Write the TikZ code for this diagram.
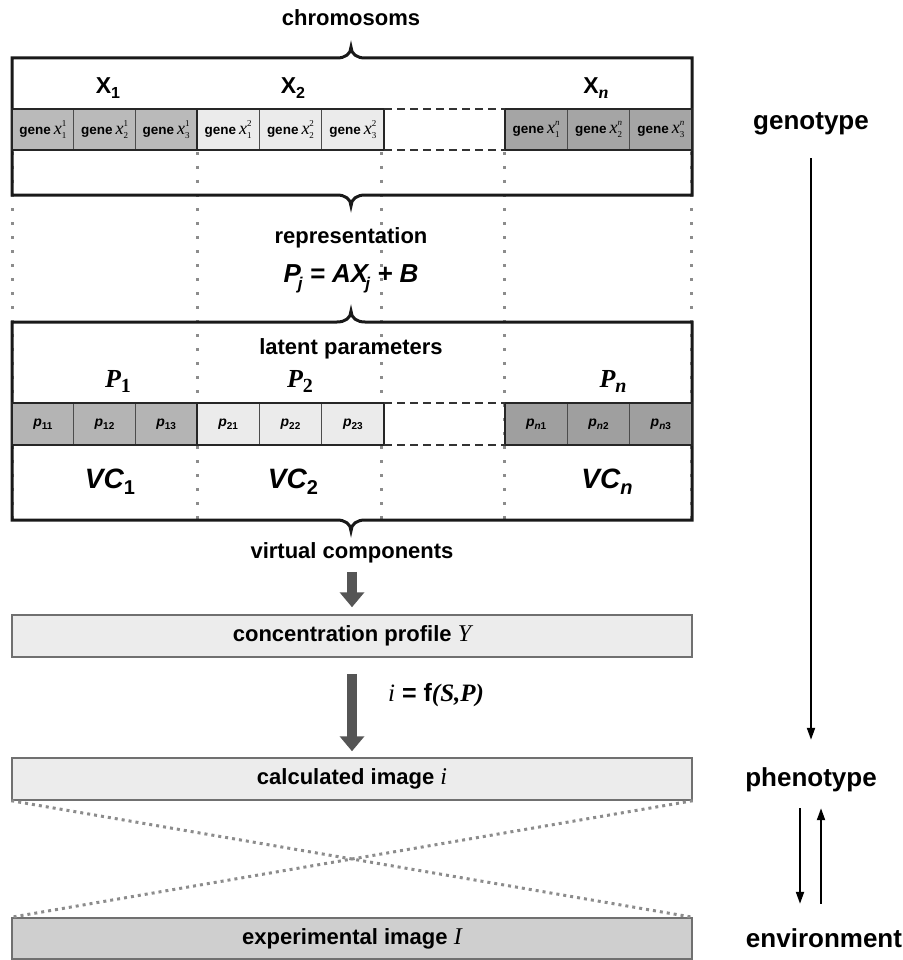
\documentclass[tikz,border=0pt]{standalone}
\usepackage{fontspec}
\setmainfont{Liberation Sans}
\newfontfamily\tms{Liberation Serif}
\usetikzlibrary{arrows.meta,calc}
\definecolor{gA}{HTML}{BABABA}
\definecolor{gB}{HTML}{EBEBEB}
\definecolor{gN}{HTML}{A5A5A5}
\definecolor{pA}{HTML}{B4B4B4}
\definecolor{pB}{HTML}{EBEBEB}
\definecolor{pN}{HTML}{9F9F9F}
\definecolor{boxfill}{HTML}{ECECEC}
\definecolor{expfill}{HTML}{CFCFCF}
\definecolor{boxedge}{HTML}{707070}
\definecolor{dotgray}{HTML}{8C8C8C}
\definecolor{arrgray}{HTML}{555555}
\newcommand\fsz[1]{\fontsize{#1}{#1}\selectfont}
\newcommand\gx[2]{{\fsz{13.5}\bfseries gene}\hspace{3pt}{\tms\fsz{18}\itshape x}\rlap{\raisebox{7.5pt}{\tms\fsz{9}#2}}\raisebox{-4pt}{\tms\fsz{9}#1}}
\newcommand\pp[1]{{\fsz{14}\bfseries\itshape p}\raisebox{-3pt}{\fsz{10}\bfseries #1}}
\tikzset{
  cell/.style={draw=black!70, line width=1.1pt, anchor=north west, inner sep=0pt, outer sep=0pt, minimum height=41pt},
  ca/.style={cell, minimum width=61.67pt},
  cb/.style={cell, minimum width=62.33pt},
  grp/.style={draw=black!85, line width=2.5pt},
  bigbox/.style={draw=black!90, line width=3pt, line join=miter},
  dashline/.style={draw=black!80, line width=1.8pt, dash pattern=on 8pt off 5pt},
  vdot/.style={draw=dotgray, line width=3pt, dash pattern=on 3pt off 11pt},
  xdot/.style={draw=dotgray, line width=3pt, dash pattern=on 3pt off 4pt},
  flowbox/.style={draw=boxedge, line width=1.5pt, fill=boxfill, minimum width=680pt, minimum height=42pt, inner sep=0pt, font=\fsz{22}\bfseries},
  txt/.style={anchor=base, inner sep=0pt},
  rlab/.style={anchor=base, inner sep=0pt, text height=19pt, text depth=6pt, font=\fsz{26}\bfseries},
  garrow/.style={draw=arrgray, line width=10pt, -{Triangle[width=24pt,length=15pt]}},
  tarrow/.style={draw=black, line width=2pt, -{Triangle[width=8pt,length=12pt]}}
}
\begin{document}
\begin{tikzpicture}[x=1pt,y=-1pt]
\useasboundingbox (0,0) rectangle (902,960);

% vertical dotted guide lines
\foreach \xx in {12,197,381,504,691}
  \draw[vdot] (\xx,152) -- (\xx,530);

% chromosome box with braces
\draw[bigbox] (12,58) -- (337,58) .. controls (345,58) and (351,54) .. (351,47)
  .. controls (351,54) and (357,58) .. (365,58) -- (692,58) -- (692,195)
  -- (365,195) .. controls (357,195) and (351,199) .. (351,206)
  .. controls (351,199) and (345,195) .. (337,195) -- (12,195) -- cycle;

% latent parameter box with braces
\draw[bigbox] (12,322) -- (337,322) .. controls (345,322) and (351,318) .. (351,311)
  .. controls (351,318) and (357,322) .. (365,322) -- (692,322) -- (692,520)
  -- (365,520) .. controls (357,520) and (351,524) .. (351,531)
  .. controls (351,524) and (345,520) .. (337,520) -- (12,520) -- cycle;

% titles
\node[txt, font=\fsz{22}\bfseries] (chrom) at (351,26) {chromosoms};
\node[txt] (X1) at (108,94) {\fsz{23}\bfseries X\raisebox{-5pt}{\fsz{16}1}};
\node[txt] (X2) at (293,94) {\fsz{23}\bfseries X\raisebox{-5pt}{\fsz{16}2}};
\node[txt] (Xn) at (596,94) {\fsz{23}\bfseries X\raisebox{-5pt}{\tms\fsz{18}\bfseries\itshape n}};

% gene cells
\node[ca, fill=gA] (g11) at (12,109) {\gx{1}{1}};
\node[ca, fill=gA] (g12) at (73.67,109) {\gx{2}{1}};
\node[ca, fill=gA] (g13) at (135.33,109) {\gx{3}{1}};
\node[cb, fill=gB] (g21) at (197,109) {\gx{1}{2}};
\node[cb, fill=gB] (g22) at (259.33,109) {\gx{2}{2}};
\node[cb, fill=gB] (g23) at (321.67,109) {\gx{3}{2}};
\node[cb, fill=gN] (gn1) at (505,109) {\gx{1}{\itshape n}};
\node[cb, fill=gN] (gn2) at (567.33,109) {\gx{2}{\itshape n}};
\node[cb, fill=gN] (gn3) at (629.67,109) {\gx{3}{\itshape n}};
\draw[grp] (g11.north west) rectangle (g13.south east);
\draw[grp] (g21.north west) rectangle (g23.south east);
\draw[grp] (gn1.north west) rectangle (gn3.south east);
\draw[dashline] (g23.north east) -- (gn1.north west);
\draw[dashline] (g23.south east) -- (gn1.south west);

% representation
\node[txt, font=\fsz{22}\bfseries] (rep) at (351,243) {representation};
\node[txt] (eq) at (351,282) {\fsz{26}\bfseries\itshape P\kern-3pt\raisebox{-7pt}{\fsz{17}j} = AX\kern-3pt\raisebox{-7pt}{\fsz{17}j} + B};

% latent parameters
\node[txt, font=\fsz{22}\bfseries] (lat) at (351,354) {latent parameters};
\node[txt] (P1) at (118,387) {\tms\bfseries\itshape\fsz{26}P\raisebox{-5pt}{\upshape\fsz{20}1}};
\node[txt] (P2) at (300,387) {\tms\bfseries\itshape\fsz{26}P\raisebox{-5pt}{\upshape\fsz{20}2}};
\node[txt] (Pn) at (613,387) {\tms\bfseries\itshape\fsz{26}P\raisebox{-5pt}{\fsz{20}n}};

\node[ca, fill=pA, minimum height=42pt] (p11) at (12,403) {\pp{11}};
\node[ca, fill=pA, minimum height=42pt] (p12) at (73.67,403) {\pp{12}};
\node[ca, fill=pA, minimum height=42pt] (p13) at (135.33,403) {\pp{13}};
\node[cb, fill=pB, minimum height=42pt] (p21) at (197,403) {\pp{21}};
\node[cb, fill=pB, minimum height=42pt] (p22) at (259.33,403) {\pp{22}};
\node[cb, fill=pB, minimum height=42pt] (p23) at (321.67,403) {\pp{23}};
\node[cb, fill=pN, minimum height=42pt] (pn1) at (505,403) {\pp{{\itshape n}1}};
\node[cb, fill=pN, minimum height=42pt] (pn2) at (567.33,403) {\pp{{\itshape n}2}};
\node[cb, fill=pN, minimum height=42pt] (pn3) at (629.67,403) {\pp{{\itshape n}3}};
\draw[grp] (p11.north west) rectangle (p13.south east);
\draw[grp] (p21.north west) rectangle (p23.south east);
\draw[grp] (pn1.north west) rectangle (pn3.south east);
\draw[dashline] (p23.north east) -- (pn1.north west);
\draw[dashline] (p23.south east) -- (pn1.south west);

\node[txt] (VC1) at (110,488) {\fsz{28}\bfseries\itshape VC\raisebox{-6pt}{\upshape\fsz{20}1}};
\node[txt] (VC2) at (293,488) {\fsz{28}\bfseries\itshape VC\raisebox{-6pt}{\upshape\fsz{20}2}};
\node[txt] (VCn) at (607,488) {\fsz{28}\bfseries\itshape VC\raisebox{-6pt}{\fsz{20}n}};

% flow part
\node[txt, font=\fsz{22}\bfseries] (vcomp) at (352,558) {virtual components};
\node[flowbox] (conc) at (352,636) {concentration profile {\tms\mdseries\itshape\fsz{24}Y}};
\node[flowbox] (calc) at (352,779) {calculated image {\tms\mdseries\itshape\fsz{24}i}};
\node[flowbox, fill=expfill, minimum height=41pt] (exper) at (352,938.5) {experimental image {\tms\mdseries\itshape\fsz{24}I}};
\node[anchor=west, inner sep=0pt] (fsp) at (388,695) {\fsz{25}{\tms\itshape i} \bfseries= f{\tms\itshape (S,P)}};

\draw[garrow, shorten <=9pt, shorten >=7pt] (vcomp.south) -- (conc.north);
\draw[garrow, shorten <=16pt, shorten >=6pt] (conc.south) -- (calc.north);

\draw[xdot] (calc.south west) -- (exper.north east);
\draw[xdot] (calc.south east) -- (exper.north west);

% right column
\node[rlab] (geno) at (811,130) {genotype};
\node[rlab] (pheno) at (811,786) {phenotype};
\node[rlab] (env) at (824,947) {environment};
\draw[tarrow, shorten <=22pt, shorten >=27pt] (geno.south) -- (pheno.north);
\draw[tarrow, shorten <=16pt, shorten >=24pt] ([xshift=-11pt]pheno.south) -- ([xshift=-11pt]pheno.south |- env.north);
\draw[tarrow, shorten <=24pt, shorten >=16pt] ([xshift=10pt]pheno.south |- env.north) -- ([xshift=10pt]pheno.south);
\end{tikzpicture}
\end{document}
